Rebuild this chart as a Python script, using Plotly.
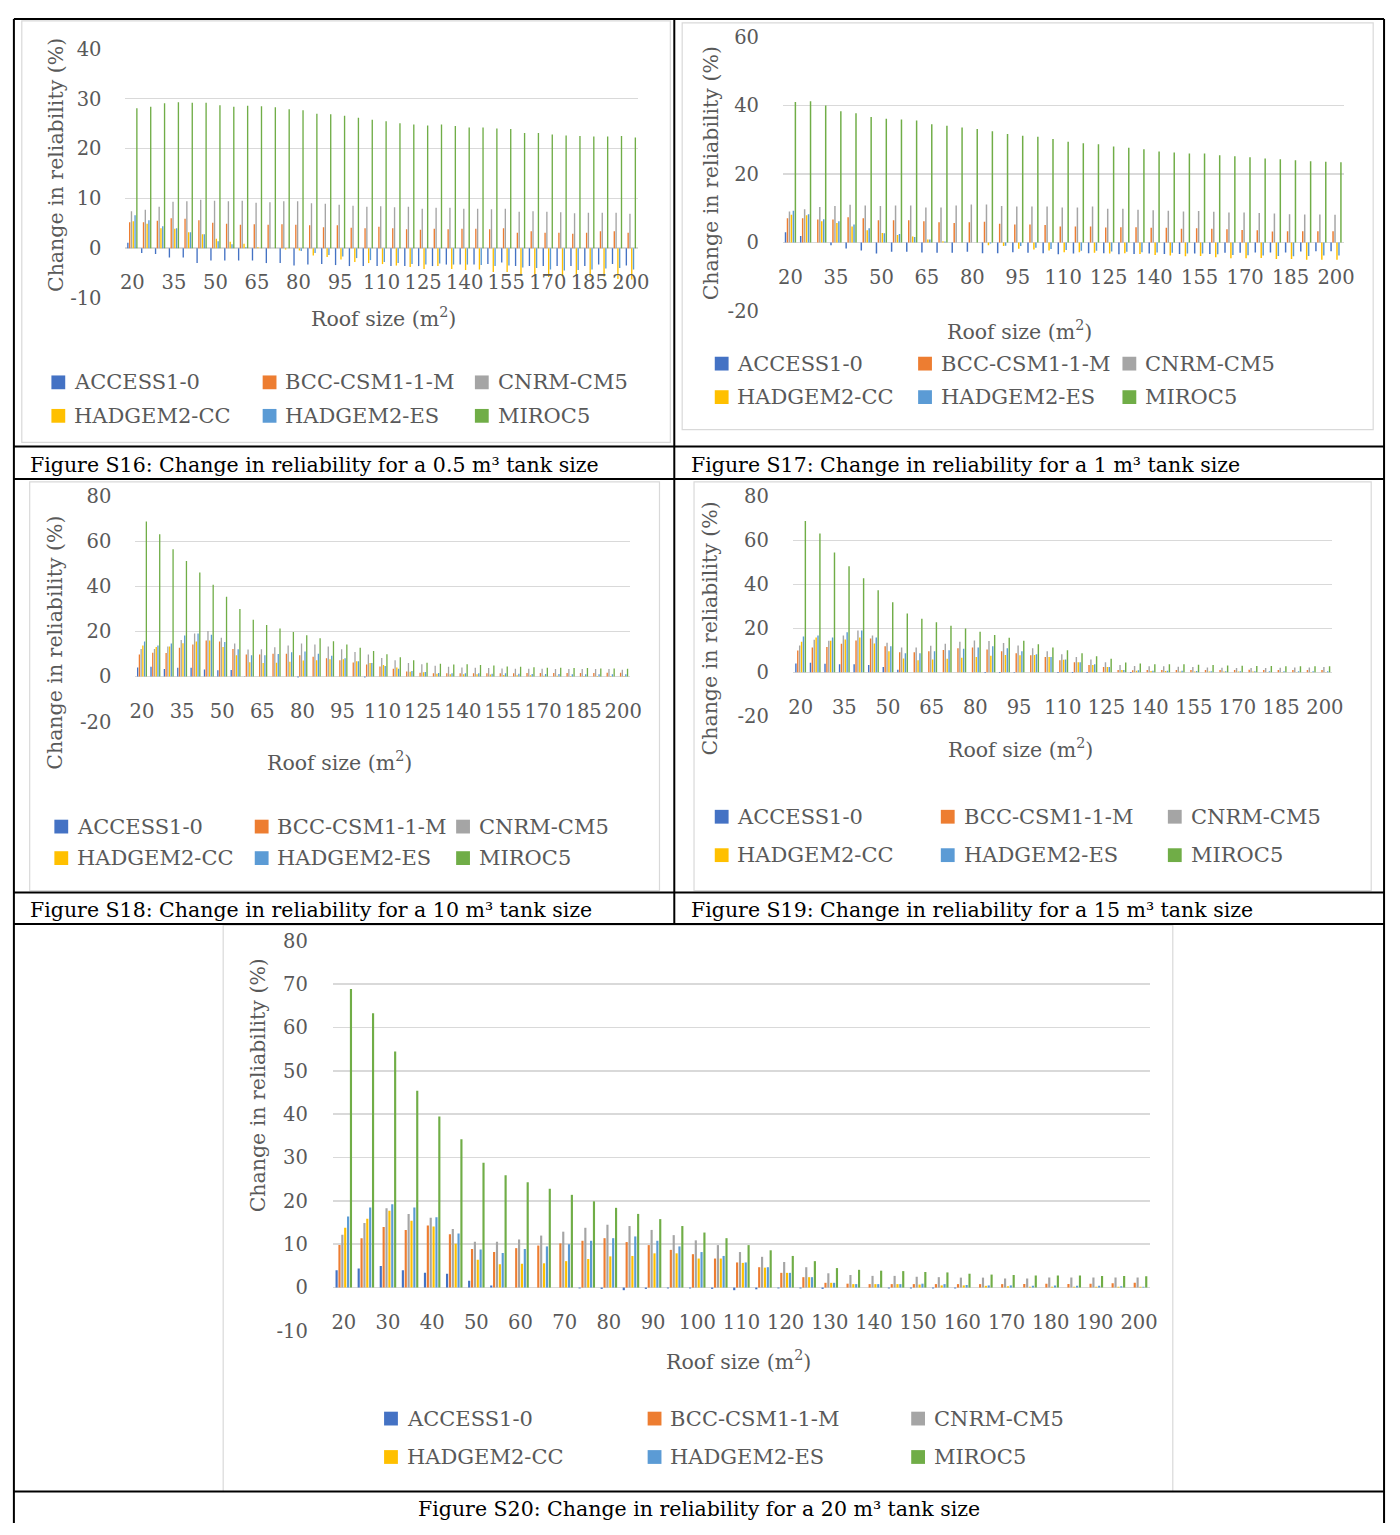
import plotly.graph_objects as go

# reference image coordinates (1400 x 1535); the figure fills the whole viewport
W, H = 1400, 1535
FONT = "DejaVu Serif"
GRAY = "#595959"

ROOF = [20, 25, 30, 35, 40, 45, 50, 55, 60, 65, 70, 75, 80, 85, 90, 95, 100, 105, 110,
        115, 120, 125, 130, 135, 140, 145, 150, 155, 160, 165, 170, 175, 180, 185, 190, 195, 200]
TICKS_15 = [20, 35, 50, 65, 80, 95, 110, 125, 140, 155, 170, 185, 200]
TICKS_10 = [20, 30, 40, 50, 60, 70, 80, 90, 100, 110, 120, 130, 140, 150, 160, 170, 180, 190, 200]
SERIES = ["ACCESS1-0", "BCC-CSM1-1-M", "CNRM-CM5", "HADGEM2-CC", "HADGEM2-ES", "MIROC5"]
COLORS = ["#4472C4", "#ED7D31", "#A5A5A5", "#FFC000", "#5B9BD5", "#70AD47"]

# ---- Figure S16: 0.5 m3 tank ----
S16_ACCESS = [1.1, -1.0, -1.2, -1.9, -1.9, -3.0, -2.5, -2.5, -2.5, -2.5, -3.0, -3.0, -3.5, -3.3, -3.2, -3.4, -3.6, -3.6, -3.6,
              -3.6, -3.6, -3.6, -3.6, -3.3, -3.3, -3.3, -3.2, -2.9, -3.6, -3.6, -3.6, -3.6, -3.6, -3.6, -3.3, -3.2, -3.5]
S16_BCC = [5.2, 5.2, 5.5, 6.0, 5.9, 5.6, 5.1, 4.9, 4.7, 4.8, 4.7, 4.8, 4.7, 4.6, 4.2, 4.6, 4.1, 4.0, 4.3,
           4.0, 3.8, 3.7, 3.9, 3.8, 3.9, 3.9, 3.8, 4.0, 3.1, 3.4, 3.1, 3.1, 2.9, 3.1, 3.4, 3.4, 3.1]
S16_CNRM = [7.4, 7.7, 8.3, 9.3, 9.4, 9.7, 9.5, 9.4, 9.5, 9.1, 9.2, 9.4, 9.4, 9.0, 8.9, 8.7, 8.5, 8.3, 8.4,
            8.2, 8.3, 7.9, 8.1, 8.1, 7.9, 7.9, 7.8, 7.9, 7.3, 7.4, 7.3, 7.2, 7.0, 7.1, 7.1, 7.1, 6.9]
S16_HCC = [5.4, 4.9, 4.0, 3.9, 3.2, 2.8, 1.9, 1.3, 0.9, 0.2, 0.0, -0.3, -0.5, -1.5, -1.8, -2.3, -2.8, -3.0, -3.2,
           -3.5, -3.8, -4.2, -3.6, -4.2, -4.4, -4.3, -4.8, -4.8, -5.3, -5.6, -5.8, -5.6, -5.6, -5.8, -5.7, -6.2, -6.3]
S16_HES = [6.6, 5.6, 4.4, 4.0, 3.2, 2.8, 1.4, 0.8, 0.2, 0.0, 0.0, 0.0, -0.6, -1.0, -1.4, -1.7, -2.0, -2.4, -2.8,
           -3.0, -3.2, -3.3, -3.1, -3.3, -3.3, -3.4, -3.6, -3.5, -3.9, -4.0, -4.3, -4.5, -4.4, -4.3, -4.1, -4.0, -4.3]
S16_MIROC = [28.1, 28.4, 29.1, 29.3, 29.2, 29.2, 28.7, 28.4, 28.6, 28.5, 28.3, 27.9, 27.7, 27.0, 26.9, 26.6, 26.2, 25.8, 25.5,
             25.1, 24.8, 24.6, 24.8, 24.5, 24.2, 24.2, 24.0, 23.9, 23.1, 23.1, 22.8, 22.6, 22.5, 22.4, 22.4, 22.5, 22.2]

# ---- Figure S17: 1 m3 tank ----
S17_ACCESS = [3.0, 1.9, 0.0, -0.8, -1.7, -2.3, -3.2, -2.7, -2.7, -2.9, -3.0, -3.0, -2.7, -3.1, -3.1, -2.8, -3.0, -3.1, -3.4,
              -3.2, -3.1, -3.1, -3.4, -3.3, -3.2, -3.3, -3.3, -3.2, -3.3, -3.0, -3.0, -2.9, -2.9, -2.9, -2.6, -2.5, -2.5]
S17_BCC = [7.1, 7.1, 6.7, 6.7, 7.4, 7.1, 6.5, 6.5, 6.5, 6.2, 5.9, 5.7, 5.9, 6.1, 5.5, 5.3, 5.3, 5.1, 4.7,
           4.7, 4.7, 4.4, 4.5, 4.5, 4.3, 4.3, 4.0, 4.2, 4.0, 3.9, 3.7, 3.6, 3.2, 3.3, 3.3, 3.3, 3.3]
S17_CNRM = [9.1, 9.7, 10.4, 10.7, 11.0, 10.8, 10.7, 10.8, 10.8, 10.2, 10.2, 10.8, 11.1, 11.1, 10.7, 10.5, 10.5, 10.5, 10.2,
            10.2, 10.5, 9.9, 9.9, 9.6, 9.4, 9.3, 9.1, 9.2, 9.0, 8.8, 8.8, 8.6, 8.5, 8.3, 8.2, 8.2, 8.1]
S17_HCC = [8.1, 8.0, 6.2, 5.7, 4.7, 3.6, 2.8, 2.2, 1.8, 0.9, 0.4, 0.0, 0.0, -0.8, -1.0, -1.8, -2.0, -2.3, -2.8,
           -2.8, -3.0, -3.2, -3.1, -3.3, -3.6, -3.8, -4.0, -3.9, -4.3, -4.6, -4.6, -4.5, -4.8, -4.8, -5.0, -5.0, -5.0]
S17_HES = [9.3, 8.3, 6.8, 6.2, 5.3, 4.2, 2.7, 2.5, 1.6, 0.9, 0.3, 0.0, 0.0, -0.3, -0.9, -1.0, -1.5, -1.9, -2.2,
           -2.4, -2.4, -2.6, -2.7, -2.8, -2.9, -3.0, -3.2, -3.2, -3.4, -3.6, -3.7, -3.8, -3.9, -4.0, -3.9, -3.8, -3.8]
S17_MIROC = [41.0, 41.2, 40.0, 38.3, 37.7, 36.6, 36.1, 35.9, 35.6, 34.5, 34.1, 33.6, 33.1, 32.5, 31.7, 31.2, 30.9, 30.2, 29.4,
             29.0, 28.7, 28.0, 27.7, 27.2, 26.6, 26.3, 26.0, 26.0, 25.5, 25.2, 24.9, 24.5, 24.3, 24.0, 23.7, 23.6, 23.4]

# ---- Figure S18: 10 m3 tank ----
S18_ACCESS = [4.1, 4.4, 3.4, 3.9, 3.9, 3.2, 2.8, 2.9, 0.2, 0.0, 0.0, 0.0, -0.4, 0.0, 0.0, 0.0, 0.0, -0.4, 0.0,
              0.0, 0.0, 0.0, 0.0, 0.0, 0.0, 0.0, 0.0, 0.0, 0.0, 0.0, 0.0, 0.0, 0.0, 0.0, 0.0, 0.0, 0.0]
S18_BCC = [9.8, 10.6, 10.5, 12.8, 14.3, 16.0, 15.6, 12.2, 9.8, 9.8, 10.2, 10.2, 9.5, 8.8, 8.1, 7.3, 6.3, 5.4, 4.5,
           3.5, 2.3, 1.7, 1.5, 1.5, 1.5, 1.5, 1.5, 1.5, 1.5, 1.6, 1.6, 1.6, 1.6, 1.6, 1.6, 1.7, 1.7]
S18_CNRM = [12.2, 12.2, 13.4, 16.3, 19.1, 20.2, 17.3, 14.7, 12.0, 12.1, 13.0, 13.8, 14.7, 14.3, 13.4, 12.1, 10.9, 9.8, 8.3,
            7.3, 6.0, 5.5, 4.8, 4.4, 4.1, 3.9, 3.8, 3.6, 3.5, 3.5, 3.5, 3.4, 3.4, 3.4, 3.4, 3.4, 3.1]
S18_HCC = [13.8, 13.1, 13.4, 14.8, 15.6, 16.0, 13.1, 9.5, 6.4, 6.0, 6.1, 6.6, 7.1, 7.3, 7.7, 7.7, 6.8, 6.0, 5.2,
           4.1, 2.2, 1.9, 1.3, 1.0, 1.0, 1.0, 0.9, 0.7, 0.6, 0.6, 0.4, 0.4, 0.3, 0.3, 0.3, 0.3, 0.3]
S18_HES = [15.6, 13.8, 14.7, 18.2, 19.1, 18.6, 15.4, 12.1, 9.5, 9.5, 10.0, 10.8, 11.2, 10.2, 9.3, 8.1, 6.8, 6.0, 4.7,
           3.5, 2.5, 2.0, 1.6, 1.5, 1.5, 1.5, 1.3, 1.5, 1.3, 1.2, 1.2, 1.2, 1.0, 1.0, 1.0, 1.0, 1.0]
S18_MIROC = [68.8, 63.2, 56.5, 51.3, 46.2, 40.8, 35.4, 30.0, 25.2, 22.9, 21.3, 19.8, 18.4, 17.0, 15.7, 14.3, 12.8, 11.4, 9.9,
             8.6, 7.3, 6.1, 5.7, 5.4, 5.5, 5.2, 4.9, 4.5, 4.4, 4.2, 3.9, 3.9, 3.8, 3.8, 3.6, 3.6, 3.5]

# ---- Figure S19: 15 m3 tank ----
S19_ACCESS = [4.0, 4.3, 3.9, 3.7, 3.7, 3.3, 2.4, 1.2, 0.0, 0.0, 0.0, 0.0, 0.0, -0.3, -0.3, -0.2, 0.0, 0.0, -0.3,
              -0.3, -0.3, 0.0, 0.0, -0.3, 0.0, 0.0, 0.0, 0.0, 0.0, 0.0, 0.0, 0.0, 0.0, 0.0, 0.0, 0.0, 0.0]
S19_BCC = [9.9, 11.3, 11.5, 13.0, 14.5, 15.4, 11.8, 9.1, 9.1, 9.6, 10.1, 10.9, 11.3, 10.4, 9.6, 8.7, 7.8, 6.9, 5.5,
           4.6, 3.3, 2.4, 1.0, 0.9, 1.0, 1.0, 1.0, 1.0, 1.0, 1.0, 1.0, 1.2, 1.0, 1.0, 1.0, 1.0, 1.0]
S19_CNRM = [12.2, 14.8, 14.3, 16.7, 19.0, 16.7, 13.4, 11.3, 11.3, 12.1, 13.0, 13.9, 14.5, 14.2, 13.3, 12.2, 10.9, 9.6, 8.2,
            7.0, 5.8, 4.6, 3.3, 2.8, 2.7, 2.7, 2.5, 2.4, 2.2, 2.1, 1.9, 1.9, 1.9, 2.1, 2.2, 2.2, 2.4]
S19_HCC = [13.9, 15.8, 14.3, 14.9, 15.8, 13.1, 9.6, 6.3, 5.5, 5.8, 6.1, 6.6, 7.0, 7.5, 7.9, 7.8, 7.9, 6.9, 5.7,
           4.6, 3.3, 2.4, 1.0, 0.7, 0.6, 0.6, 0.4, 0.4, 0.3, 0.3, 0.3, 0.3, 0.1, 0.1, 0.1, 0.1, 0.1]
S19_HES = [16.3, 16.7, 15.8, 18.2, 19.0, 15.8, 11.8, 8.7, 8.7, 9.6, 10.0, 10.7, 11.3, 11.8, 10.9, 9.6, 8.2, 7.0, 5.8,
           4.6, 3.6, 2.4, 1.0, 0.9, 0.7, 0.7, 0.7, 0.6, 0.5, 0.5, 0.5, 0.5, 0.5, 0.5, 0.5, 0.5, 0.5]
S19_MIROC = [68.8, 63.1, 54.5, 48.2, 42.8, 37.3, 31.8, 26.7, 24.3, 22.8, 21.2, 19.9, 18.4, 17.0, 15.7, 14.3, 12.8, 11.3, 10.0,
             8.7, 7.3, 6.1, 4.5, 4.0, 3.7, 3.7, 3.6, 3.4, 3.3, 3.1, 3.0, 2.8, 2.8, 2.7, 2.7, 2.7, 2.7]

# ---- Figure S20: 20 m3 tank ----
S20_ACCESS = [4.0, 4.4, 5.0, 4.0, 3.4, 3.2, 1.6, 0.5, 0.0, 0.0, 0.0, -0.2, -0.3, -0.6, -0.3, -0.2, -0.2, -0.3, -0.6,
              -0.4, -0.2, -0.2, -0.3, 0.0, 0.0, -0.2, -0.2, -0.2, -0.2, 0.0, 0.0, 0.0, 0.0, 0.0, 0.0, 0.0, 0.0]
S20_BCC = [9.8, 11.4, 14.0, 13.3, 14.3, 12.3, 8.9, 8.2, 9.1, 9.7, 10.2, 10.8, 11.4, 10.5, 9.8, 8.7, 7.7, 6.7, 5.8,
           4.7, 3.4, 2.4, 1.1, 0.9, 0.8, 0.8, 0.8, 0.8, 0.8, 0.8, 0.8, 0.8, 0.9, 0.8, 0.9, 1.0, 1.1]
S20_CNRM = [12.2, 14.9, 18.3, 17.0, 16.1, 13.5, 10.6, 10.6, 11.1, 12.0, 12.9, 13.8, 14.5, 14.2, 13.3, 12.1, 10.9, 9.8, 8.2,
            7.1, 5.9, 4.7, 3.3, 2.9, 2.7, 2.7, 2.5, 2.4, 2.3, 2.3, 2.1, 2.1, 2.3, 2.3, 2.3, 2.3, 2.3]
S20_HCC = [13.8, 15.9, 17.7, 15.4, 14.1, 10.1, 6.4, 5.4, 5.5, 5.6, 6.1, 6.6, 7.2, 7.3, 7.9, 7.9, 6.7, 6.7, 5.7,
           4.6, 3.4, 2.4, 1.1, 0.8, 0.8, 0.8, 0.7, 0.5, 0.5, 0.4, 0.3, 0.2, 0.2, 0.2, 0.2, 0.2, 0.2]
S20_HES = [16.4, 18.5, 19.2, 18.5, 16.2, 12.5, 8.8, 8.0, 8.9, 9.5, 10.0, 10.8, 11.4, 11.8, 10.8, 9.5, 8.2, 7.3, 5.8,
           4.7, 3.4, 2.4, 1.1, 0.8, 0.8, 0.8, 0.9, 0.8, 0.6, 0.5, 0.5, 0.4, 0.5, 0.4, 0.4, 0.3, 0.2]
S20_MIROC = [68.9, 63.3, 54.5, 45.4, 39.5, 34.2, 28.8, 25.9, 24.3, 22.8, 21.4, 19.9, 18.4, 17.0, 15.8, 14.2, 12.7, 11.4, 9.8,
             8.6, 7.3, 6.1, 4.5, 4.1, 3.9, 3.8, 3.6, 3.5, 3.2, 3.0, 2.9, 2.8, 2.8, 2.8, 2.7, 2.7, 2.6]

Y_TICKS_S16 = [-10, 0, 10, 20, 30, 40]
Y_TICKS_S17 = [-20, 0, 20, 40, 60]
Y_TICKS_S18 = [-20, 0, 20, 40, 60, 80]
Y_TICKS_S19 = [-20, 0, 20, 40, 60, 80]
Y_TICKS_S20 = [-10, 0, 10, 20, 30, 40, 50, 60, 70, 80]

CAPTIONS = [
    "Figure S16: Change in reliability for a 0.5 m³ tank size",
    "Figure S17: Change in reliability for a 1 m³ tank size",
    "Figure S18: Change in reliability for a 10 m³ tank size",
    "Figure S19: Change in reliability for a 15 m³ tank size",
    "Figure S20: Change in reliability for a 20 m³ tank size",
]
Y_TITLE = "Change in reliability (%)"
X_TITLE = "Roof size (m<sup>2</sup>)"


def px(x):
    return x / W


def py(y):
    return 1 - y / H


# layout geometry in image pixels (kept apart from data)
CHARTS = [
    dict(values=[S16_ACCESS, S16_BCC, S16_CNRM, S16_HCC, S16_HES, S16_MIROC], yticks=Y_TICKS_S16, xticks=TICKS_15,
         plot=(121, 640, 38.5, 291.3), zero=240.7, ylab=97, ytitle=(50, 156), xtitle=(382, 311),
         leg_x=(67, 281, 496), leg_y=(377, 411), border=(16, 673, 10, 438)),
    dict(values=[S17_ACCESS, S17_BCC, S17_CNRM, S17_HCC, S17_HES, S17_MIROC], yticks=Y_TICKS_S17, xticks=TICKS_15,
         plot=(787, 1355, 26.3, 304.7), zero=235.3, ylab=763, ytitle=(714, 165), xtitle=(1027, 324),
         leg_x=(739, 945, 1152), leg_y=(358, 392), border=(685, 1385, 12, 425)),
    dict(values=[S18_ACCESS, S18_BCC, S18_CNRM, S18_HCC, S18_HES, S18_MIROC], yticks=Y_TICKS_S18, xticks=TICKS_15,
         plot=(131, 632, 492.7, 721.5), zero=675.7, ylab=107, ytitle=(50, 641), xtitle=(338, 762),
         leg_x=(70, 273, 477), leg_y=(828, 860), border=(24, 662, 478, 893)),
    dict(values=[S19_ACCESS, S19_BCC, S19_CNRM, S19_HCC, S19_HES, S19_MIROC], yticks=Y_TICKS_S19, xticks=TICKS_15,
         plot=(797.6, 1343.4, 492.7, 716), zero=671.3, ylab=773, ytitle=(713, 627), xtitle=(1028, 749),
         leg_x=(739, 968, 1198), leg_y=(818, 857), border=(697, 1383, 478, 893)),
    dict(values=[S20_ACCESS, S20_BCC, S20_CNRM, S20_HCC, S20_HES, S20_MIROC], yticks=Y_TICKS_S20, xticks=TICKS_10,
         plot=(331, 1159, 944, 1340), zero=1296, ylab=306, ytitle=(255, 1091), xtitle=(742, 1370),
         leg_x=(404, 671, 938), leg_y=(1429, 1468), border=(220, 1182, 928, 1503)),
]
CAPTION_POS = [(22, 461, "left"), (692, 461, "left"), (22, 913, "left"), (692, 913, "left"), (702, 1521, "center")]

fig = go.Figure()
layout = {}
shapes = []
annotations = []

for i, ch in enumerate(CHARTS, start=1):
    xa = "x" if i == 1 else f"x{i}"
    ya = "y" if i == 1 else f"y{i}"
    xk = "xaxis" if i == 1 else f"xaxis{i}"
    yk = "yaxis" if i == 1 else f"yaxis{i}"
    for name, color, vals in zip(SERIES, COLORS, ch["values"]):
        fig.add_trace(go.Bar(x=ROOF, y=vals, name=name, xaxis=xa, yaxis=ya, showlegend=False,
                             marker=dict(color=color, line=dict(width=0))))
    x0, x1, y0, y1 = ch["plot"]
    yt = ch["yticks"]
    layout[xk] = dict(domain=[px(x0), px(x1)], anchor="free", position=py(ch["zero"]),
                      range=[17.5, 202.5], tickmode="array", tickvals=ch["xticks"],
                      ticktext=[str(v) for v in ch["xticks"]], showgrid=False, showline=False,
                      zeroline=False, ticks="outside", ticklen=17, tickcolor="rgba(0,0,0,0)",
                      tickfont=dict(family=FONT, size=19.5, color=GRAY), fixedrange=True)
    layout[yk] = dict(domain=[py(y1), py(y0)], anchor=xa, range=[yt[0], yt[-1]], tickmode="array",
                      tickvals=yt, ticktext=[str(v) for v in yt], showgrid=True, gridcolor="#D9D9D9",
                      gridwidth=1.5, zeroline=False, showline=False, ticks="outside",
                      ticklen=max(1, x0 - ch["ylab"] - 5), tickcolor="rgba(0,0,0,0)",
                      tickfont=dict(family=FONT, size=19.5, color=GRAY), fixedrange=True)
    bx0, bx1, by0, by1 = ch["border"]
    shapes.append(dict(type="rect", xref="paper", yref="paper", x0=px(bx0), x1=px(bx1), y0=py(by1), y1=py(by0),
                       line=dict(color="#D9D9D9", width=1.2), fillcolor="rgba(0,0,0,0)", layer="below"))
    annotations.append(dict(xref="paper", yref="paper", x=px(ch["ytitle"][0]), y=py(ch["ytitle"][1]),
                            text=Y_TITLE, textangle=-90, showarrow=False, xanchor="center", yanchor="middle",
                            font=dict(family=FONT, size=20.5, color=GRAY)))
    annotations.append(dict(xref="paper", yref="paper", x=px(ch["xtitle"][0]), y=py(ch["xtitle"][1]),
                            text=X_TITLE, showarrow=False, xanchor="center", yanchor="middle",
                            font=dict(family=FONT, size=20.5, color=GRAY)))
    for k, (name, color) in enumerate(zip(SERIES, COLORS)):
        tx = ch["leg_x"][k % 3]
        ty = ch["leg_y"][k // 3]
        shapes.append(dict(type="rect", xref="paper", yref="paper", x0=px(tx - 21), x1=px(tx - 7),
                           y0=py(ty + 7), y1=py(ty - 7), line=dict(width=0), fillcolor=color))
        annotations.append(dict(xref="paper", yref="paper", x=px(tx), y=py(ty), text=name, showarrow=False,
                                xanchor="left", yanchor="middle",
                                font=dict(family=FONT, size=21, color=GRAY)))

for text, (cx, cy, anchor) in zip(CAPTIONS, CAPTION_POS):
    annotations.append(dict(xref="paper", yref="paper", x=px(cx), y=py(cy), text=text, showarrow=False,
                            xanchor=anchor, yanchor="middle", font=dict(family=FONT, size=20.5, color="black")))


def hline(y, xa_, xb_):
    shapes.append(dict(type="line", xref="paper", yref="paper", x0=px(xa_), x1=px(xb_), y0=py(y), y1=py(y),
                       line=dict(color="black", width=2)))


def vline(x, ya_, yb_):
    shapes.append(dict(type="line", xref="paper", yref="paper", x0=px(x), x1=px(x), y0=py(ya_), y1=py(yb_),
                       line=dict(color="black", width=2)))


for yy in [8, 442, 475, 895, 927, 1503]:
    hline(yy, 8, 1396)
vline(8, 8, 1535)
vline(1396, 8, 1535)
vline(677, 8, 927)

fig.update_layout(
    autosize=True,
    margin=dict(l=0, r=0, t=0, b=0),
    paper_bgcolor="white", plot_bgcolor="white",
    barmode="group", bargap=0.22, bargroupgap=0.25,
    shapes=shapes, annotations=annotations,
    showlegend=False,
    **layout,
)

fig.write_html("out.html", config={"displayModeBar": False, "staticPlot": True},
               default_width="100vw", default_height="100vh",
               post_script="document.body.style.margin='0';document.body.style.overflow='hidden';")
